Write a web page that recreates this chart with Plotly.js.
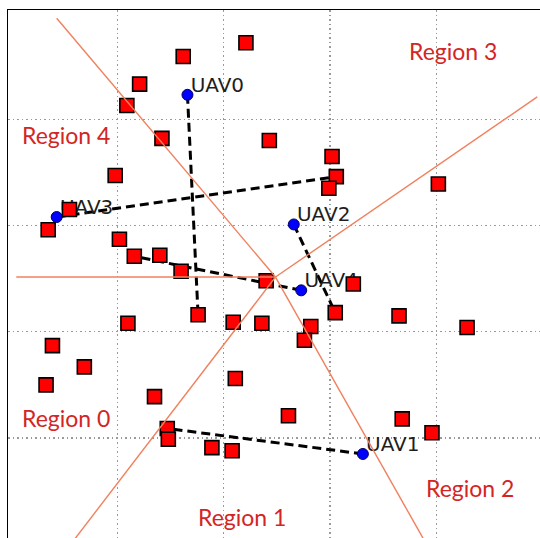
<!DOCTYPE html>
<html>
<head>
<meta charset="utf-8">
<script src="https://cdn.plot.ly/plotly-3.0.1.min.js"></script>
<style>
  html, body { margin: 0; padding: 0; background: #fff; }
  #chart { width: 540px; height: 538px; }
</style>
</head>
<body>
<div id="chart"></div>
<script>
// Target points (red squares)
const targetX = [1.62, 2.21, 1.21, 1.09, 1.42, 2.43, 3.02, 3.06, 2.99, 4.02,
                 0.98, 0.55, 0.35, 1.02, 1.16, 1.40, 1.60, 2.40, 3.22, 1.76,
                 1.10, 2.09, 2.36, 2.82, 2.76, 3.05, 3.65, 4.29, 0.39, 0.69,
                 0.33, 2.11, 1.35, 2.61, 3.68, 3.96, 1.47, 1.48, 1.89, 2.08];
const targetY = [4.59, 4.72, 4.33, 4.13, 3.82, 3.80, 3.65, 3.46, 3.35, 3.39,
                 3.47, 3.15, 2.96, 2.87, 2.71, 2.72, 2.57, 2.48, 2.45, 2.16,
                 2.08, 2.09, 2.08, 2.05, 1.92, 2.18, 2.15, 2.04, 1.87, 1.67,
                 1.50, 1.56, 1.39, 1.21, 1.18, 1.05, 1.09, 0.99, 0.91, 0.88];

// UAV positions and the target each one is heading to
const uavNames = ["UAV0", "UAV1", "UAV2", "UAV3", "UAV4"];
const uavX = [1.66, 3.31, 2.66, 0.43, 2.73];
const uavY = [4.23, 0.85, 3.01, 3.08, 2.39];
const uavTarget = [19, 36, 25, 7, 14];

// Region partition: a hub with five boundary rays
const hubX = 2.488, hubY = 2.515;
const rayEndX = [0.05, 0.43, 4.95, 0.60, 3.88];
const rayEndY = [2.515, 4.95, 4.21, 0.05, 0.05];

const regionNames = ["Region 0", "Region 1", "Region 2", "Region 3", "Region 4"];
const regionLabelX = [0.52, 2.17, 4.32, 4.16, 0.52];
const regionLabelY = [1.19, 0.255, 0.53, 4.64, 3.85];

// label offset from each UAV marker, in axis units
const labelDx = 0.03, labelDy = 0.075;

const traces = [];

// dashed assignment paths
uavNames.forEach((name, i) => {
  const t = uavTarget[i];
  traces.push({
    type: "scatter", mode: "lines",
    x: [uavX[i], targetX[t]], y: [uavY[i], targetY[t]],
    line: { color: "#000", width: 3, dash: "9px,5px" },
    hoverinfo: "skip", showlegend: false
  });
});

// UAV labels
traces.push({
  type: "scatter", mode: "text",
  x: uavX.map(v => v + labelDx), y: uavY.map(v => v + labelDy), text: uavNames,
  textposition: "middle right",
  textfont: { family: "DejaVu Sans", size: 20, color: "#1e1e1e" },
  hoverinfo: "skip", showlegend: false
});

// UAVs
traces.push({
  type: "scatter", mode: "markers",
  x: uavX, y: uavY,
  marker: { symbol: "circle", size: 11, color: "#0000ff", line: { color: "#000060", width: 1 } },
  showlegend: false
});

// targets
traces.push({
  type: "scatter", mode: "markers",
  x: targetX, y: targetY,
  marker: { symbol: "square", size: 14, color: "#ff0000", line: { color: "#000", width: 1.6 } },
  showlegend: false
});

// region boundaries
const bx = [], by = [];
rayEndX.forEach((ex, i) => { bx.push(hubX, ex, null); by.push(hubY, rayEndY[i], null); });
traces.push({
  type: "scatter", mode: "lines",
  x: bx, y: by,
  line: { color: "#f0805e", width: 1.4 },
  hoverinfo: "skip", showlegend: false
});

const annotations = regionNames.map((name, i) => ({
  x: regionLabelX[i], y: regionLabelY[i], xref: "x", yref: "y",
  text: name, showarrow: false, xanchor: "center", yanchor: "middle",
  font: { family: "Lato", size: 23, color: "#d42525" }
}));

const axisCommon = {
  tickvals: [1, 2, 3, 4], showticklabels: false, ticks: "",
  showgrid: true, gridcolor: "#9a9a9a", gridwidth: 1.3, griddash: "1.5px,3px",
  zeroline: false, showline: true, linecolor: "#000", linewidth: 1.3, mirror: false
};

const layout = {
  width: 540, height: 538,
  margin: { l: 8, r: 0, t: 10, b: 0, pad: 0 },
  paper_bgcolor: "#fff", plot_bgcolor: "#fff",
  xaxis: Object.assign({}, axisCommon, { range: [-0.028, 4.976], side: "top" }),
  yaxis: Object.assign({}, axisCommon, { range: [0.0593, 5.028], side: "left" }),
  annotations: annotations,
  showlegend: false
};

Plotly.newPlot("chart", traces, layout, { displayModeBar: false, staticPlot: true });
</script>
</body>
</html>
